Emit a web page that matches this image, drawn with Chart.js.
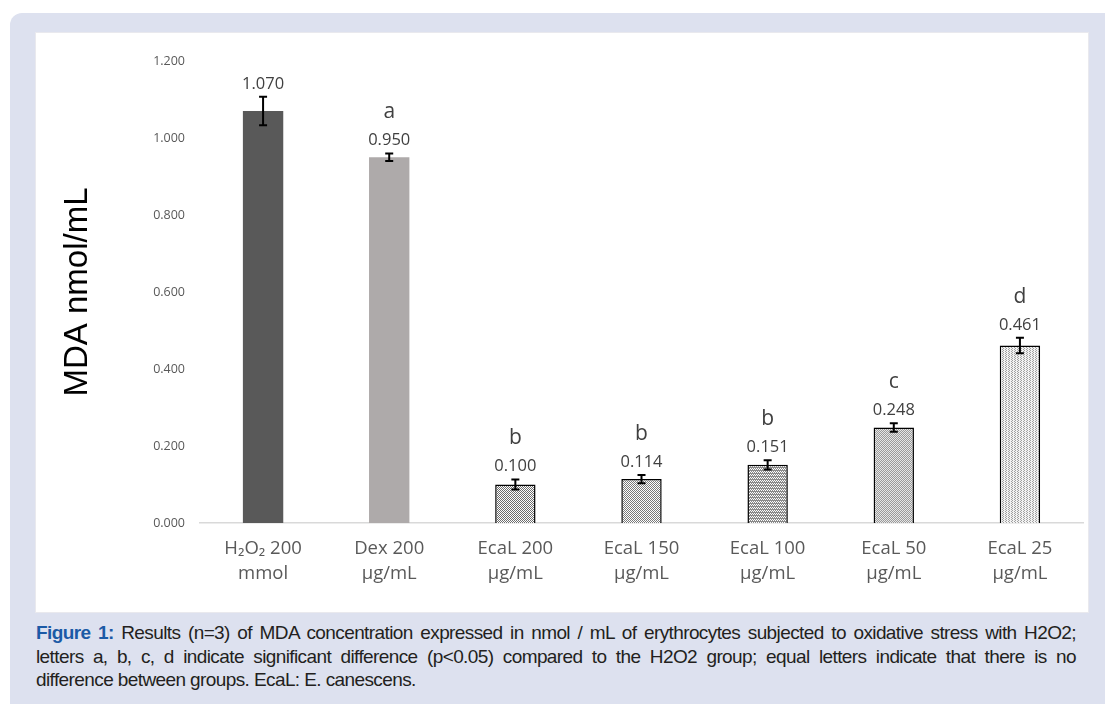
<!DOCTYPE html>
<html>
<head>
<meta charset="utf-8">
<script src="https://cdn.jsdelivr.net/npm/chart.js@4.4.1/dist/chart.umd.min.js"></script>
<style>
  html, body { margin: 0; padding: 0; background: #fff; }
  body { width: 1105px; height: 704px; position: relative; overflow: hidden; }
  .frame {
    position: absolute; left: 10px; top: 13px; width: 1110px; height: 710px;
    background: #dde1ef; border-radius: 12px;
  }
  .panel {
    position: absolute; left: 36px; top: 33px; width: 1052px; height: 579px;
    background: #fff; box-shadow: 0 0 0 1px #e9e9ee;
  }
  .caption {
    position: absolute; left: 36px; top: 621px; width: 1040px;
    font-family: "Liberation Sans Narrow", "Arial Narrow", "Liberation Sans", sans-serif;
    font-size: 19px; line-height: 23.5px; color: #231f20;
    letter-spacing: -0.6px;
  }
  .caption div { white-space: nowrap; }
  .caption .j { text-align: justify; text-align-last: justify; }
  .caption b { color: #1b5aa6; }
</style>
</head>
<body>
<div class="frame"></div>
<div class="panel"><canvas id="mdaChart" width="1052" height="579"></canvas></div>
<div class="caption">
  <div class="j"><b>Figure 1:</b> Results (n=3) of MDA concentration expressed in nmol / mL of erythrocytes subjected to oxidative stress with H2O2;</div>
  <div class="j">letters a, b, c, d indicate significant difference (p&lt;0.05) compared to the H2O2 group; equal letters indicate that there is no</div>
  <div>difference between groups. EcaL: E. canescens.</div>
</div>
<script>
var groups = [["H\u2082O\u2082 200", "mmol"], ["Dex 200", "\u00b5g/mL"], ["EcaL 200", "\u00b5g/mL"], ["EcaL 150", "\u00b5g/mL"], ["EcaL 100", "\u00b5g/mL"], ["EcaL 50", "\u00b5g/mL"], ["EcaL 25", "\u00b5g/mL"]];
var mda = [1.070, 0.950, 0.100, 0.114, 0.151, 0.248, 0.461];
var sd = [0.037, 0.010, 0.013, 0.011, 0.012, 0.011, 0.020];
var letters = ["", "a", "b", "b", "b", "c", "d"];
var yTicks = [0, 0.2, 0.4, 0.6, 0.8, 1.0, 1.2];

// dotted fills for the extract bars (dark -> light)
function makePattern(dotColor, bg, stepX, stepY) {
  var c = document.createElement("canvas");
  c.width = stepX; c.height = stepY;
  var g = c.getContext("2d");
  g.fillStyle = bg;
  g.fillRect(0, 0, stepX, stepY);
  g.fillStyle = dotColor;
  g.fillRect(0, 0, 1, 1);
  g.fillRect(Math.floor(stepX / 2), Math.floor(stepY / 2), 1, 1);
  return document.getElementById("mdaChart").getContext("2d").createPattern(c, "repeat");
}

var fills = [
  "#595959",
  "#aeaaaa",
  makePattern("#ffffff", "#6e6e6e", 2, 2),
  makePattern("#ffffff", "#7a7a7a", 2, 2),
  makePattern("#ffffff", "#8a8a8a", 2, 3),
  makePattern("#9a9a9a", "#e6e6e6", 2, 2),
  makePattern("#a0a0a0", "#f2f2f2", 3, 2)
];
var borders = [0, 0, 1.5, 1.5, 1.5, 1.5, 1.5];

var labelPlugin = {
  id: "errAndLabels",
  afterDatasetsDraw: function (chart) {
    var ctx = chart.ctx;
    var y = chart.scales.y;
    var meta = chart.getDatasetMeta(0);
    ctx.save();
    meta.data.forEach(function (bar, i) {
      var x = bar.x;
      var top = y.getPixelForValue(mda[i] + sd[i]);
      var bot = y.getPixelForValue(mda[i] - sd[i]);
      ctx.strokeStyle = "#000";
      ctx.lineWidth = 2;
      ctx.beginPath();
      ctx.moveTo(x, top); ctx.lineTo(x, bot);
      ctx.moveTo(x - 4, top); ctx.lineTo(x + 4, top);
      ctx.moveTo(x - 4, bot); ctx.lineTo(x + 4, bot);
      ctx.stroke();
      ctx.textAlign = "center";
      ctx.textBaseline = "alphabetic";
      ctx.fillStyle = "#404040";
      ctx.font = "16.5px 'Open Sans', 'Noto Sans', sans-serif";
      ctx.fillText(mda[i].toFixed(3), x, top - 8);
      if (letters[i]) {
        ctx.font = "21px 'Open Sans', 'Noto Sans', sans-serif";
        ctx.fillText(letters[i], x, top - 35);
      }
    });
    ctx.restore();
  }
};

new Chart(document.getElementById("mdaChart"), {
  type: "bar",
  data: {
    labels: groups,
    datasets: [{
      data: mda,
      backgroundColor: fills,
      borderColor: "#000",
      borderWidth: borders,
      barPercentage: 0.64,
      categoryPercentage: 0.5
    }]
  },
  options: {
    responsive: false,
    animation: false,
    layout: { padding: { left: 22, right: 5, top: 28, bottom: 0 } },
    plugins: { legend: { display: false }, tooltip: { enabled: false } },
    scales: {
      x: {
        grid: { display: false, drawTicks: false },
        border: { color: "#d9d9d9", width: 1.5 },
        ticks: {
          color: "#595959",
          padding: 13,
          font: { family: "'Open Sans', 'Noto Sans', sans-serif", size: 18.5, lineHeight: 1.35 }
        },
        afterFit: function (s) { s.height = 89; }
      },
      y: {
        min: 0,
        max: 1.2,
        afterBuildTicks: function (s) { s.ticks = yTicks.map(function (v) { return { value: v }; }); },
        grid: { display: false, drawTicks: false },
        border: { display: false },
        ticks: {
          color: "#595959",
          padding: 15,
          font: { family: "'Open Sans', 'Noto Sans', sans-serif", size: 12.5 },
          callback: function (v) { return Number(v).toFixed(3); }
        },
        title: {
          display: true,
          text: "MDA nmol/mL",
          color: "#000",
          padding: 0,
          font: { family: "'Liberation Sans', Arial, sans-serif", size: 33 }
        },
        afterFit: function (s) { s.width = 142; }
      }
    }
  },
  plugins: [labelPlugin]
});
</script>
</body>
</html>
